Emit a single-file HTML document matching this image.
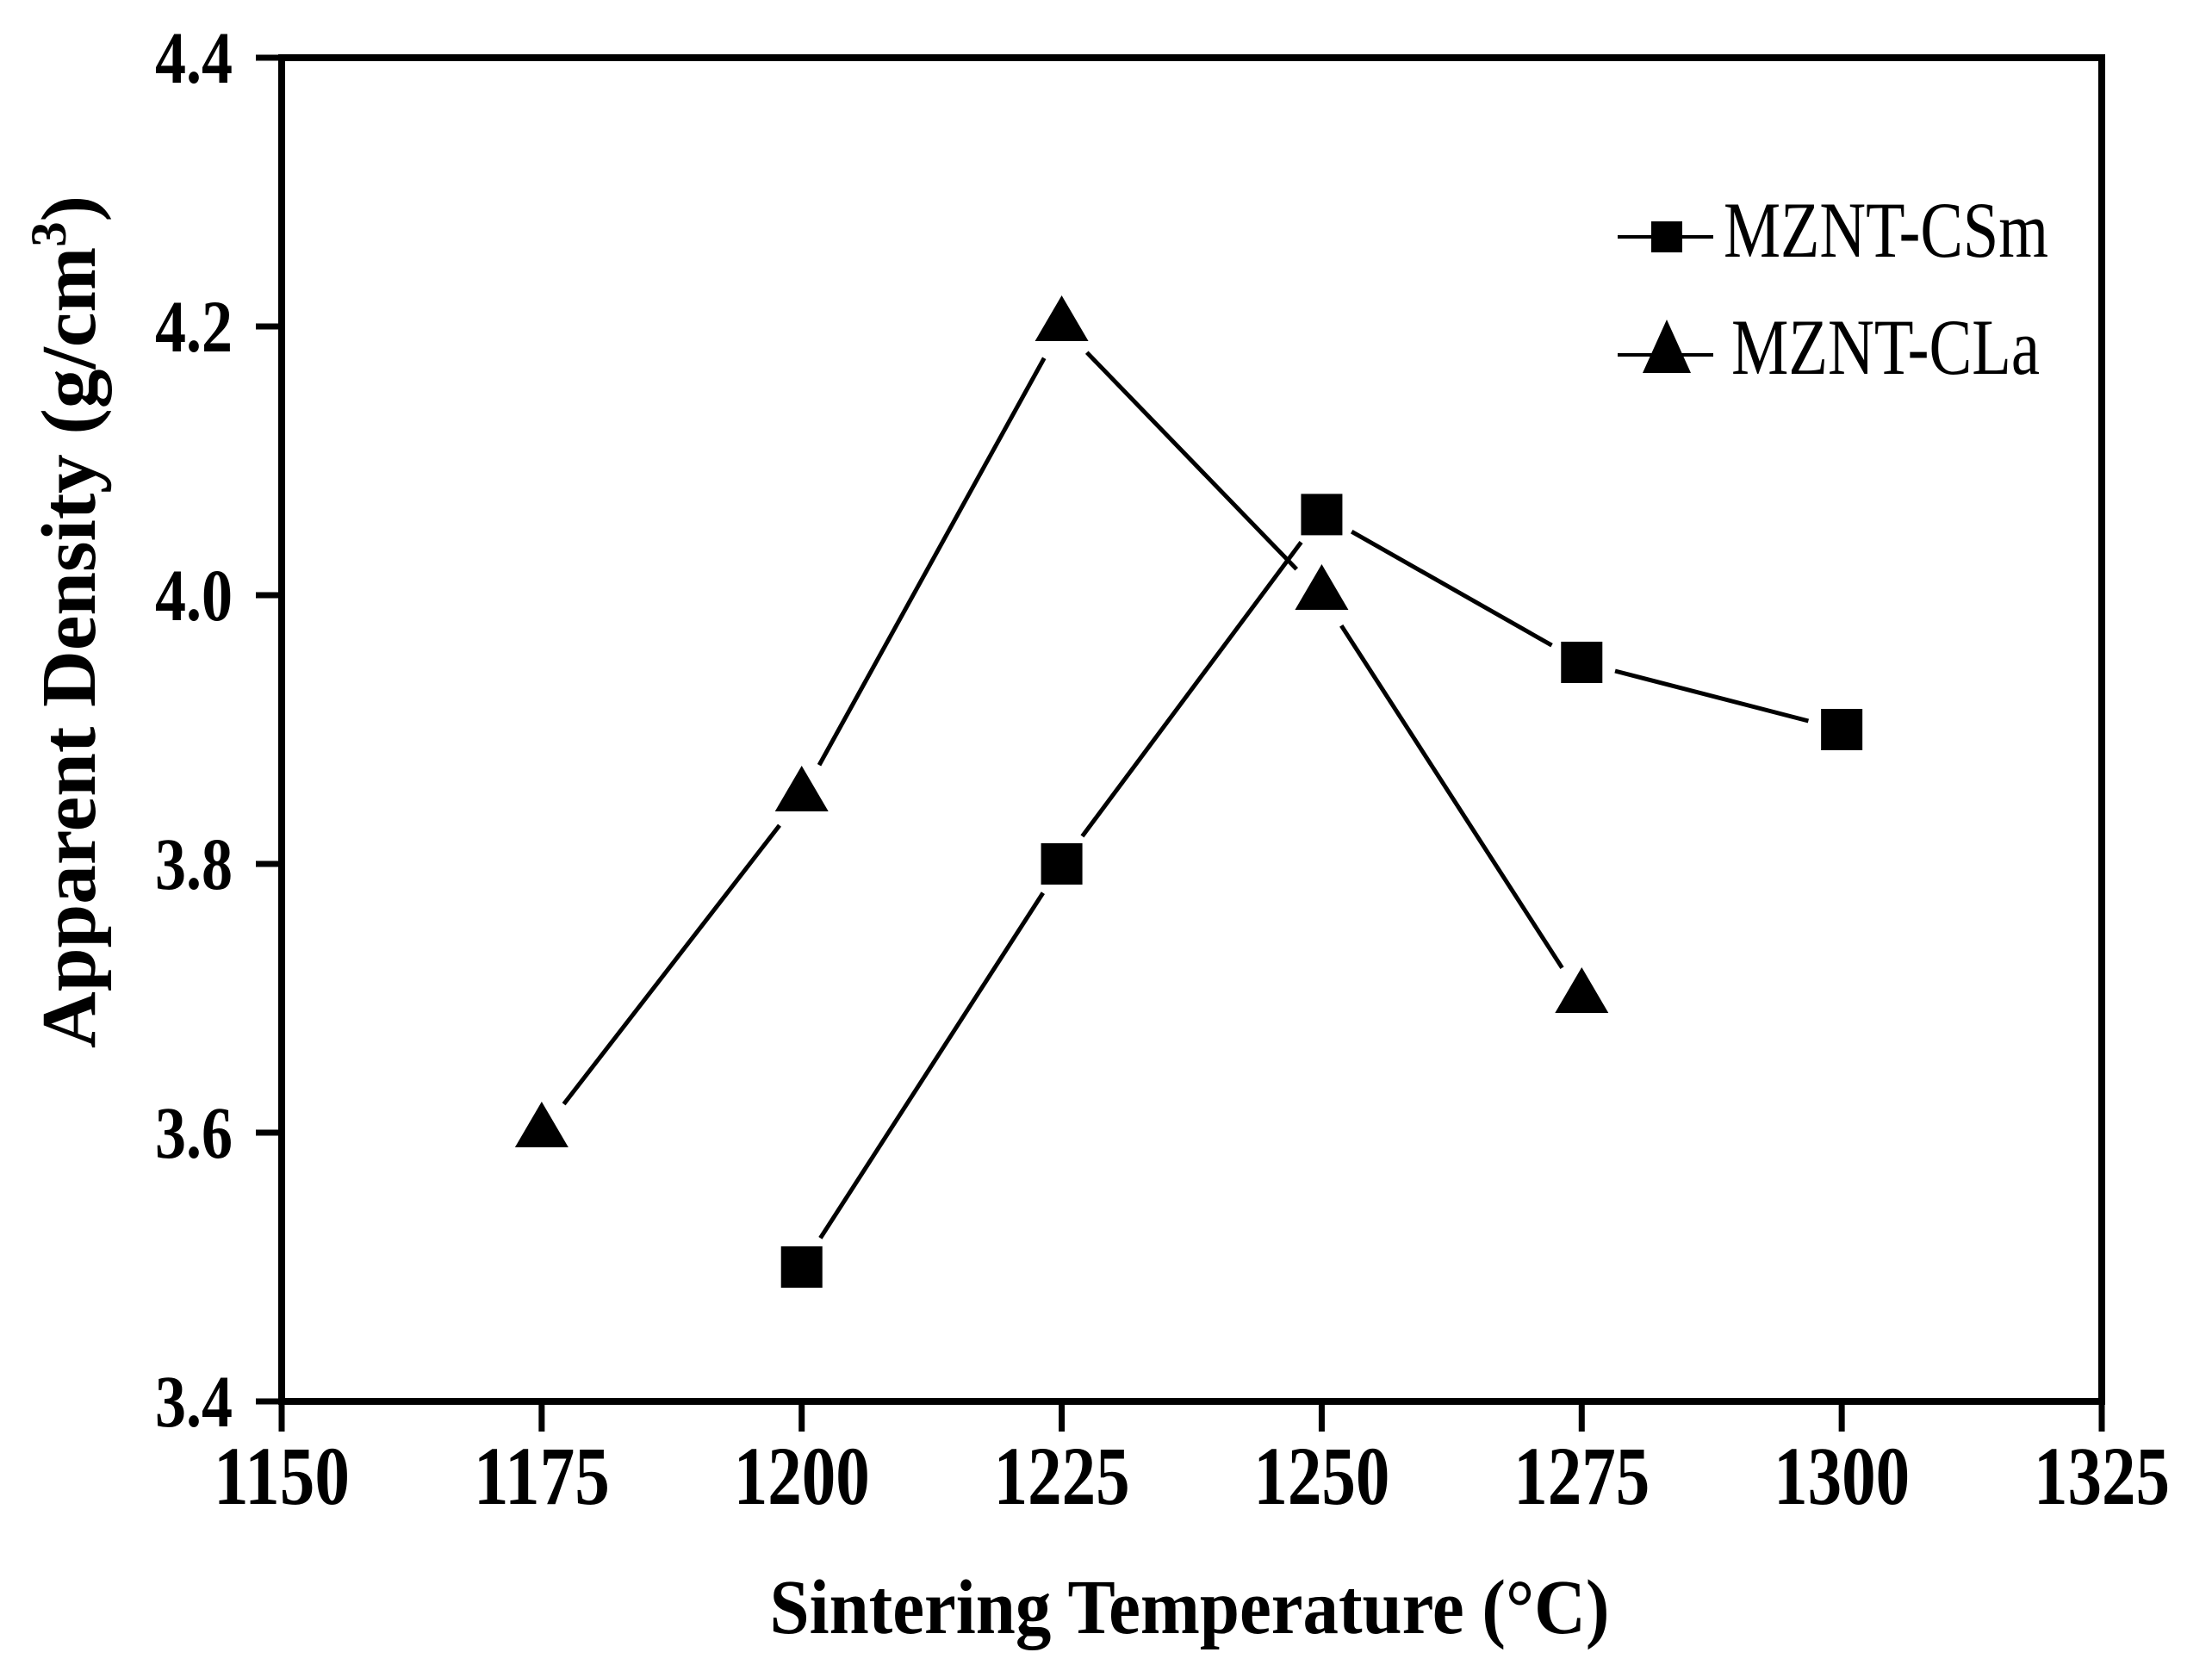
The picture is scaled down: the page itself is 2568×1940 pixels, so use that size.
<!DOCTYPE html>
<html><head><meta charset="utf-8"><style>
html,body{margin:0;padding:0;background:#fff;}
svg{display:block;}
text{font-family:"Liberation Serif","Times New Roman",serif;fill:#000;}
</style></head><body>
<svg id="chart" width="2568" height="1940" viewBox="0 0 2568 1940" xmlns="http://www.w3.org/2000/svg">
<g id="axes"></g>
<g id="series"></g>
<text transform="translate(110,722) rotate(-90)" text-anchor="middle" font-size="90" font-weight="bold" textLength="990" lengthAdjust="spacingAndGlyphs">Apparent Density (g/cm<tspan dy="-34" font-size="58">3</tspan><tspan dy="34">)</tspan></text>
<text x="1381" y="1896" text-anchor="middle" font-size="90" font-weight="bold" textLength="975" lengthAdjust="spacingAndGlyphs">Sintering Temperature (°C)</text>
<g>
<g>
<line x1="1878" y1="275" x2="1989" y2="275" stroke="#000" stroke-width="4"/>
<rect x="1917" y="257" width="36" height="36" fill="#000"/>
<text x="2001" y="298" font-size="92" textLength="377" lengthAdjust="spacingAndGlyphs">MZNT-CSm</text>
</g>
<g>
<line x1="1878" y1="412" x2="1989" y2="412" stroke="#000" stroke-width="4"/>
<polygon points="1935,371 1963,433 1907,433" fill="#000"/>
<text x="2010" y="434" font-size="92" textLength="358" lengthAdjust="spacingAndGlyphs">MZNT-CLa</text>
</g>
</g>
</svg>
<script>
const xTicks = [1150, 1175, 1200, 1225, 1250, 1275, 1300, 1325];
const yTicks = [3.4, 3.6, 3.8, 4.0, 4.2, 4.4];
const yTickLabels = ["3.4", "3.6", "3.8", "4.0", "4.2", "4.4"];
const csmTemps = [1200, 1225, 1250, 1275, 1300];
const csmDensity = [3.5, 3.8, 4.06, 3.95, 3.9];
const claTemps = [1175, 1200, 1225, 1250, 1275];
const claDensity = [3.6, 3.85, 4.2, 4.0, 3.7];

const L = 327, R = 2440, T = 67, B = 1627;
const xMin = 1150, xMax = 1325, yMin = 3.4, yMax = 4.4;
function sx(v){ return L + (v - xMin) / (xMax - xMin) * (R - L); }
function sy(v){ return B - (v - yMin) / (yMax - yMin) * (B - T); }
const NS = "http://www.w3.org/2000/svg";
function mk(tag, attrs, parent){
  const e = document.createElementNS(NS, tag);
  for (const k in attrs) e.setAttribute(k, attrs[k]);
  parent.appendChild(e); return e;
}
const axes = document.getElementById('axes');
const frame = mk('rect', {x:L, y:T, width:R-L, height:B-T, fill:'none', stroke:'#000', 'stroke-width':8}, axes);


xTicks.forEach(function(t){
  const x = sx(t);
  const tk = mk('line', {x1:x, y1:B, x2:x, y2:B+35, stroke:'#000', 'stroke-width':7}, axes);
  
  
  const lb = mk('text', {x:x, y:1746, 'text-anchor':'middle', 'font-size':96, 'font-weight':'bold', textLength:158, lengthAdjust:'spacingAndGlyphs'}, axes);
  lb.textContent = String(t);
  
  
});
yTicks.forEach(function(t, i){
  const y = sy(t);
  const tk = mk('line', {x1:L-30, y1:y, x2:L, y2:y, stroke:'#000', 'stroke-width':7}, axes);
  
  
  const lb = mk('text', {x:270, y:y+29, 'text-anchor':'end', 'font-size':86, 'font-weight':'bold', textLength:90, lengthAdjust:'spacingAndGlyphs'}, axes);
  lb.textContent = yTickLabels[i];
  
  
});
const series = document.getElementById('series');
function drawLines(xs, ys, name, gap){
  for (let i = 0; i < xs.length - 1; i++){
    const x1 = sx(xs[i]), y1 = sy(ys[i]), x2 = sx(xs[i+1]), y2 = sy(ys[i+1]);
    const dx = x2 - x1, dy = y2 - y1, d = Math.hypot(dx, dy);
    const ux = dx / d, uy = dy / d;
    const ln = mk('line', {x1:x1+ux*gap, y1:y1+uy*gap, x2:x2-ux*gap, y2:y2-uy*gap, stroke:'#000', 'stroke-width':5}, series);
    
    
  }
}
drawLines(csmTemps, csmDensity, 'csm', 40);
drawLines(claTemps, claDensity, 'cla', 42);
csmTemps.forEach(function(t, i){
  const x = sx(t), y = sy(csmDensity[i]);
  const r = mk('rect', {x:x-24, y:y-24, width:48, height:48, fill:'#000'}, series);
  
  
});
claTemps.forEach(function(t, i){
  const x = sx(t), y = sy(claDensity[i]);
  const p = mk('polygon', {points:(x)+','+(y-36)+' '+(x+31)+','+(y+17)+' '+(x-31)+','+(y+17), fill:'#000'}, series);
  
  
});
</script>
</body></html>
